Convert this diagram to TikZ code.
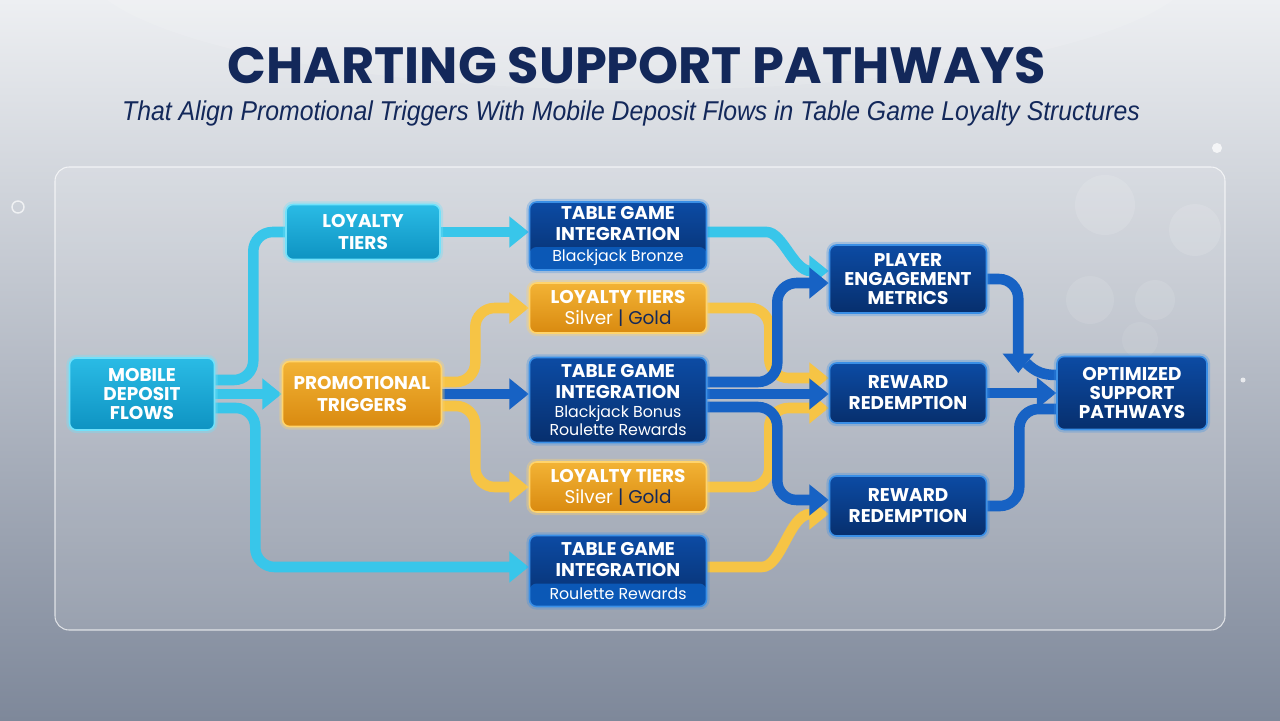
\documentclass[tikz,border=0pt]{standalone}
\usepackage{fontspec}
\usepackage{graphicx}
\setmainfont{Poppins}
\newfontfamily\subfont{Liberation Sans}
\usetikzlibrary{arrows.meta,calc,positioning}
\definecolor{titlenavy}{HTML}{13285A}
\definecolor{bgtop}{HTML}{EDEFF2}
\definecolor{bgmid}{HTML}{C3C8D0}
\definecolor{bgbot}{HTML}{7E889A}
\definecolor{cyantop}{HTML}{2ABBE5}
\definecolor{cyanbot}{HTML}{0E93C2}
\definecolor{cyanedge}{HTML}{72E1FA}
\definecolor{orangetop}{HTML}{F2B335}
\definecolor{orangebot}{HTML}{D98A10}
\definecolor{orangeedge}{HTML}{FFD46C}
\definecolor{navytop}{HTML}{0C4BA4}
\definecolor{navybot}{HTML}{072F6D}
\definecolor{navyedge}{HTML}{3A8FE6}
\definecolor{bandblue}{HTML}{0B58B6}
\definecolor{goldtext}{HTML}{13285A}
\definecolor{linecyan}{HTML}{38C6EA}
\definecolor{lineyellow}{HTML}{F6C445}
\definecolor{lineblue}{HTML}{1762C4}
\pgfdeclarelayer{back}
\pgfdeclarelayer{edges}
\pgfsetlayers{back,edges,main}
\tikzstyle{box}=[rectangle, rounded corners=4pt, align=center, text=white, inner sep=2pt,
  font=\fontsize{10.5}{12}\selectfont\bfseries, line width=0.9pt]
\tikzstyle{cyanbox}=[box, top color=cyantop, bottom color=cyanbot, draw=cyanedge,
  preaction={draw=cyanedge, line width=3.5pt, opacity=0.35}]
\tikzstyle{orangebox}=[box, top color=orangetop, bottom color=orangebot, draw=orangeedge,
  preaction={draw=orangeedge, line width=3.5pt, opacity=0.35}]
\tikzstyle{navybox}=[box, top color=navytop, bottom color=navybot, draw=navyedge,
  preaction={draw=navyedge, line width=3.5pt, opacity=0.3}]
\tikzstyle{band}=[path picture={\fill[bandblue] (path picture bounding box.south west)
  rectangle ([yshift=0.46cm]path picture bounding box.south east);}]
\tikzstyle{flow}=[line width=6pt, rounded corners=11pt, -{Triangle[length=11pt,width=17pt]}]
\tikzstyle{flowline}=[line width=6pt, rounded corners=11pt]
\newcommand{\subline}[1]{{\fontsize{9}{12}\selectfont\mdseries #1}}
\newcommand{\tierline}{{\fontsize{10.5}{12}\selectfont\mdseries Silver \textcolor{goldtext}{| Gold}}}

\begin{document}
\begin{tikzpicture}[x=0.02cm, y=-0.02cm]
\useasboundingbox (0,0) rectangle (1280,720);

% background and panel
\begin{pgfonlayer}{back}
\shade[top color=bgtop, middle color=bgmid, bottom color=bgbot] (0,0) rectangle (1280,720);
\fill[white, opacity=0.12] (640,-40) ellipse (560 and 130);
\fill[white, opacity=0.12, draw=white, draw opacity=0.7, line width=0.6pt, rounded corners=8pt]
  (55,167) rectangle (1225,630);
\draw[white, opacity=0.7, line width=0.8pt] (18,207) circle (6);
\fill[white, opacity=0.75] (1217,148) circle (5);
\fill[white, opacity=0.7] (1243,380) circle (2.5);
\fill[white, opacity=0.12] (1105,205) circle (30);
\fill[white, opacity=0.12] (1195,230) circle (26);
\fill[white, opacity=0.10] (1155,300) circle (20);
\fill[white, opacity=0.10] (1090,300) circle (24);
\fill[white, opacity=0.08] (1140,340) circle (18);
\end{pgfonlayer}

% title
\node (title) [inner sep=0pt] at (637,66) {\fontsize{29}{29}\selectfont\bfseries\color{titlenavy}CHARTING SUPPORT PATHWAYS};
\node (subtitle) [inner sep=0pt] at (631,113) {\subfont\itshape\fontsize{15.5}{16}\selectfont\color{titlenavy}%
  \scalebox{0.91}[1]{That Align Promotional Triggers With Mobile Deposit Flows in Table Game Loyalty Structures}};

% boxes
\node (mdf) [cyanbox, minimum width=2.9cm, minimum height=1.44cm] at (142,394) {MOBILE\\[-1pt]DEPOSIT\\[-1pt]FLOWS};
\node (lt1) [cyanbox, minimum width=3.08cm, minimum height=1.1cm] at (363,232) {LOYALTY\\TIERS};
\node (pt) [orangebox, minimum width=3.18cm, minimum height=1.3cm] at (362,394) {PROMOTIONAL\\TRIGGERS};

\node (tg1) [navybox, band, minimum width=3.54cm, minimum height=1.36cm] at (618,236)
  {TABLE GAME\\INTEGRATION\\\subline{Blackjack Bronze}};
\node (lt2) [orangebox, minimum width=3.54cm, minimum height=1.0cm] at (618,308) {LOYALTY TIERS\\\tierline};
\node (tg2) [navybox, minimum width=3.54cm, minimum height=1.7cm] at (618,400)
  {TABLE GAME\\INTEGRATION\\[-1pt]\subline{Blackjack Bonus}\\[-2pt]\subline{Roulette Rewards}};
\node (lt3) [orangebox, minimum width=3.54cm, minimum height=1.0cm] at (618,487) {LOYALTY TIERS\\\tierline};
\node (tg3) [navybox, band, minimum width=3.54cm, minimum height=1.42cm] at (618,571)
  {TABLE GAME\\INTEGRATION\\[1pt]\subline{Roulette Rewards}};

\node (pem) [navybox, minimum width=3.14cm, minimum height=1.36cm] at (908,279) {PLAYER\\[-1pt]ENGAGEMENT\\[-1pt]METRICS};
\node (rr1) [navybox, minimum width=3.14cm, minimum height=1.2cm] at (908,393) {REWARD\\REDEMPTION};
\node (rr2) [navybox, minimum width=3.14cm, minimum height=1.2cm] at (908,506) {REWARD\\REDEMPTION};
\node (osp) [navybox, minimum width=3.0cm, minimum height=1.46cm] at (1132,393) {OPTIMIZED\\[-1pt]SUPPORT\\[-1pt]PATHWAYS};

% connectors
\begin{pgfonlayer}{edges}
\draw[flowline, linecyan] ($(mdf.east)+(0,-14)$) -- ++(38,0) |- (lt1.west);
\draw[flow, linecyan] (mdf.east) -- (pt.west);
\draw[flow, linecyan] ($(mdf.east)+(0,14)$) -- ++(40,0) |- ($(tg3.west)+(0,-4)$);
\draw[flow, linecyan] (lt1.east) -- (lt1.east -| tg1.west);

\draw[flow, lineyellow] ($(pt.east)+(0,-12)$) -- ++(33,0) |- (lt2.west);
\draw[flow, lineyellow] ($(pt.east)+(0,12)$) -- ++(33,0) |- (lt3.west);
\draw[flow, lineblue] (pt.east) -- (pt.east -| tg2.west);

\draw[flow, lineyellow] (lt2.east) -- ++(62,0) |- ($(rr1.west)+(0,-15)$);
\draw[flow, lineyellow] (lt3.east) -- ++(62,0) |- ($(rr1.west)+(0,15)$);
\draw[flow, lineyellow] ($(tg3.east)+(0,-4)$) -- ++(35,0) to[out=0,in=180] ($(rr2.west)+(0,8)$);

\draw[flow, linecyan] ($(tg1.east)+(0,-4)$) -- ++(40,0) to[out=0,in=180] ($(pem.west)+(0,-8)$);
\draw[flow, lineblue] ($(tg2.east)+(0,-18)$) -- ++(70,0) |- ($(pem.west)+(0,4)$);
\draw[flow, lineblue] ($(tg2.east)+(0,-6)$) -- ($(rr1.west)+(0,1)$);
\draw[flow, lineblue] ($(tg2.east)+(0,7)$) -- ++(70,0) |- ($(rr2.west)+(0,-6)$);

\draw[flow, lineblue] (pem.east) -| ($(osp.west)+(-38,-20)$);
\draw[flowline, lineblue] ($(osp.west)+(0,-18)$) to[out=180,in=-45] ($(osp.west)+(-30,-30)$);
\draw[flow, lineblue] (rr1.east) -- (rr1.east -| osp.west);
\draw[flowline, lineblue] (rr2.east) -- ++(32,0) |- ($(osp.west)+(0,16)$);
\end{pgfonlayer}
\end{tikzpicture}
\end{document}
